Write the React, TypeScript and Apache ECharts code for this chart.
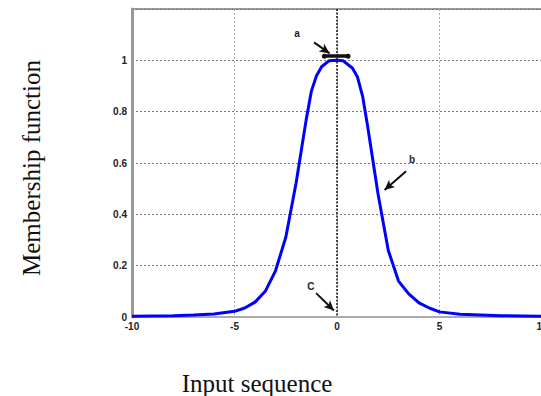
import React, { useEffect, useRef } from "react";
import * as echarts from "echarts";

const xValues = [-10, -9, -8, -7, -6, -5, -4.5, -4, -3.5, -3, -2.5, -2, -1.5, -1.25, -1, -0.75, -0.4, 0, 0.3, 0.75, 1, 1.25, 1.5, 2, 2.5, 3, 3.5, 4, 4.5, 5, 6, 7, 8, 9, 10];
const yValues = [0.003, 0.004, 0.005, 0.008, 0.012, 0.022, 0.035, 0.058, 0.1, 0.18, 0.31, 0.52, 0.77, 0.88, 0.94, 0.975, 0.998, 1, 0.998, 0.97, 0.935, 0.86, 0.74, 0.48, 0.26, 0.14, 0.09, 0.055, 0.035, 0.02, 0.011, 0.008, 0.005, 0.004, 0.003];

const annotationLabels = ["a", "b", "C"];
const labelPositions = [[-1.95, 1.105], [3.66, 0.615], [-1.27, 0.12]];
const arrowStarts = [[-1.12, 1.07], [3.37, 0.568], [-1.02, 0.093]];
const arrowEnds = [[-0.36, 1.027], [2.32, 0.495], [-0.15, 0.025]];
const widthBar = [[-0.62, 1.016], [0.54, 1.016]];

const xTicks = { min: -10, max: 10, interval: 5 };
const yTicks = { min: 0, max: 1.2, interval: 0.2 };

export default function App() {
  const ref = useRef<HTMLDivElement>(null);
  useEffect(() => {
    if (!ref.current) return;
    const chart = echarts.init(ref.current, undefined, { renderer: "svg" });
    const data = xValues.map((x, i) => [x, yValues[i]]);
    const arrowLines = arrowStarts.map((s, i) => [
      { coord: s, symbol: "none" },
      { coord: arrowEnds[i], symbol: "arrow", symbolSize: [7, 10] },
    ]);
    chart.setOption({
      animation: false,
      grid: {
        left: 132,
        top: 9,
        width: 410,
        height: 308,
        outerBoundsMode: "none",
        containLabel: false,
        show: true,
        borderColor: "#9a9a9a",
        borderWidth: 2,
      },
      xAxis: {
        type: "value",
        min: xTicks.min,
        max: xTicks.max,
        interval: xTicks.interval,
        axisLine: { show: true, onZero: false, lineStyle: { color: "#aaa", width: 2 } },
        axisTick: { show: false },
        axisLabel: {
          color: "#222",
          fontFamily: "Liberation Sans, Arial",
          fontWeight: "bold",
          fontSize: 10,
          margin: 4,
        },
        splitLine: { show: true, lineStyle: { color: "#aaa", type: [2, 2], width: 1 } },
      },
      yAxis: {
        type: "value",
        min: yTicks.min,
        max: yTicks.max,
        interval: yTicks.interval,
        axisLine: { show: true, onZero: false, lineStyle: { color: "#999", width: 3 } },
        axisTick: { show: false },
        axisLabel: {
          color: "#222",
          fontFamily: "Liberation Sans, Arial",
          fontWeight: "bold",
          fontSize: 10,
          margin: 5,
          formatter: (v: number) => (v > 1.01 ? "" : String(Math.round(v * 10) / 10)),
        },
        splitLine: { show: true, lineStyle: { color: "#777", type: [2, 2], width: 1 } },
      },
      series: [
        {
          type: "line",
          data,
          showSymbol: false,
          symbol: "none",
          lineStyle: { color: "#0000ff", width: 3 },
          z: 3,
          markLine: {
            silent: true,
            animation: false,
            symbol: "none",
            label: { show: false },
            data: [
              [
                { coord: [0, yTicks.max], lineStyle: { color: "#111", type: [2, 1.5], width: 1.5 } },
                { coord: [0, 0] },
              ],
              [
                { coord: widthBar[0], symbol: "circle", symbolSize: 5, lineStyle: { color: "#111", type: "solid", width: 3.5 } },
                { coord: widthBar[1], symbol: "circle", symbolSize: 5 },
              ],
              ...arrowLines.map((pair) => [
                { ...pair[0], lineStyle: { color: "#111", type: "solid", width: 2 } },
                pair[1],
              ]),
            ],
          },
          markPoint: {
            silent: true,
            symbol: "circle",
            symbolSize: 0,
            label: {
              show: true,
              color: "#222",
              fontFamily: "Liberation Sans, Arial",
              fontWeight: "bold",
              fontSize: 10,
              position: "inside",
              formatter: (p: any) => p.name,
            },
            data: annotationLabels.map((t, i) => ({ name: t, coord: labelPositions[i] })),
          },
        },
      ],
      graphic: [
        {
          type: "text",
          x: 257,
          y: 383,
          style: {
            text: "Input sequence",
            font: "25px 'Liberation Serif', 'Times New Roman', serif",
            fill: "#111",
            align: "center",
            verticalAlign: "middle",
          },
        },
        {
          type: "text",
          x: 31,
          y: 168,
          rotation: Math.PI / 2,
          style: {
            text: "Membership function",
            font: "25px 'Liberation Serif', 'Times New Roman', serif",
            fill: "#111",
            align: "center",
            verticalAlign: "middle",
          },
        },
      ],
    });
    return () => chart.dispose();
  }, []);
  return (
    <div
      ref={ref}
      style={{ position: "fixed", left: 0, top: 0, width: 541, height: 396, background: "#fff" }}
    />
  );
}
